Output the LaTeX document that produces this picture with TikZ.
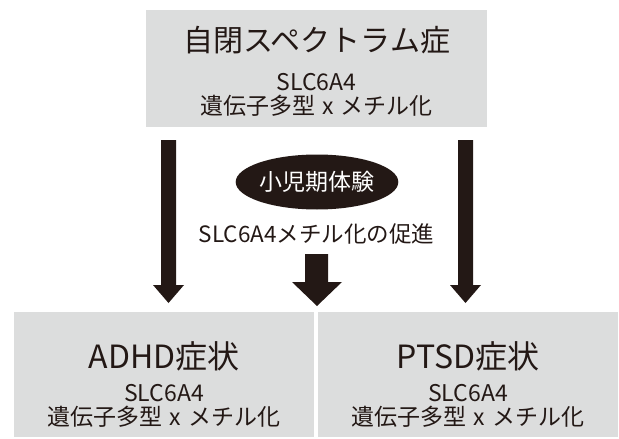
\documentclass[tikz,border=0pt]{standalone}
\usepackage{fontspec}
\setmainfont{Noto Sans CJK JP}
\usetikzlibrary{shapes.geometric}
\definecolor{ink}{HTML}{231815}
\definecolor{boxgray}{HTML}{DCDDDD}
\newcommand\polytxt{遺伝子多型\hspace{0.3em}x\hspace{0.3em}メチル化}
\tikzset{
  graybox/.style={fill=boxgray, draw=none, inner sep=0pt},
  bigtxt/.style={text=ink, inner sep=0pt, font=\fontsize{30}{30}\selectfont},
  subtitle/.style={text=ink, inner sep=0pt, font=\fontsize{32}{32}\selectfont},
  midtxt/.style={text=ink, inner sep=0pt, font=\fontsize{23}{23}\selectfont},
  arrowfill/.style={fill=ink},
}
\begin{document}
\begin{tikzpicture}[x=1pt,y=-1pt]
\useasboundingbox (0,0) rectangle (619,439);
% boxes
\node[graybox, minimum width=341pt, minimum height=117pt] (top) at (316.5,68.5) {};
\node[graybox, minimum width=300pt, minimum height=125pt] (left) at (164,374.5) {};
\node[graybox, minimum width=300pt, minimum height=125pt] (right) at (468,374.5) {};
% top texts
\node[bigtxt] (ttitle) at (316.5,40) {自閉スペクトラム症};
\node[midtxt] (tgene) at (316.5,82) {SLC6A4};
\node[midtxt] (tpoly) at (316.5,106) {\polytxt};
% bottom texts
\node[subtitle] (ltitle) at (164,356) {ADHD症状};
\node[midtxt] (lgene) at (164,393) {SLC6A4};
\node[midtxt] (lpoly) at (164,417) {\polytxt};
\node[subtitle] (rtitle) at (468,356) {PTSD症状};
\node[midtxt] (rgene) at (468,393) {SLC6A4};
\node[midtxt] (rpoly) at (468,417) {\polytxt};
% ellipse
\node[ellipse, fill=ink, minimum width=140pt, minimum height=55pt, inner sep=0pt,
      text=white, font=\fontsize{23}{23}\selectfont] (exp) at (317,182) {小児期体験};
\node[text=ink, inner sep=0pt, font=\fontsize{22.5}{22.5}\selectfont] (promo) at (316.5,234) {SLC6A4メチル化の促進};
% arrows
\fill[arrowfill] (161,140) -- (176,140) -- (176,285) -- (184,285) -- (168.5,303) -- (153,285) -- (161,285) -- cycle;
\fill[arrowfill] (458,140) -- (473,140) -- (473,285) -- (481,285) -- (465.5,303) -- (450,285) -- (458,285) -- cycle;
\fill[arrowfill] (305,254) -- (328,254) -- (328,282) -- (342,282) -- (317,306) -- (292,282) -- (305,282) -- cycle;
\end{tikzpicture}
\end{document}
